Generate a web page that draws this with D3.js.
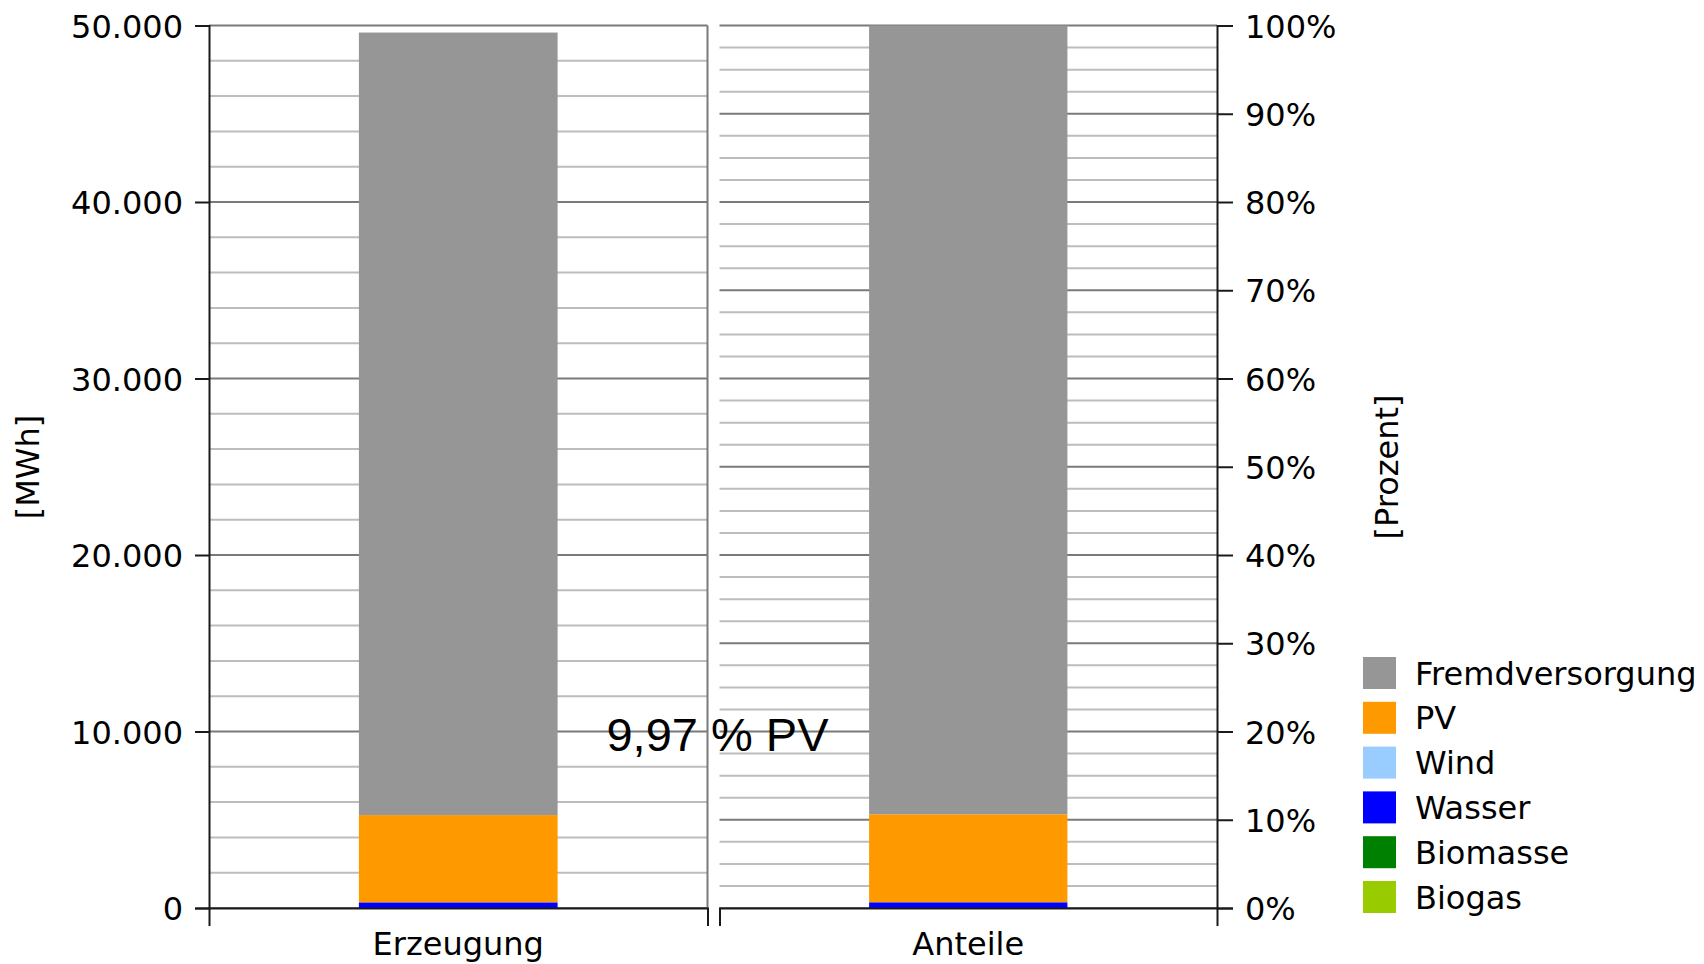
<!DOCTYPE html>
<html>
<head>
<meta charset="utf-8">
<script src="https://cdn.jsdelivr.net/npm/d3@7"></script>
<style>
    body { margin: 0; background: #fff; }
    text { font-family: "DejaVu Sans", sans-serif; fill: #000; }
    .axis text { font-size: 32px; }
    .axis path, .axis line { stroke: #1a1a1a; stroke-width: 2px; }
    .gridMinor { stroke: #bdbdbd; stroke-width: 2px; }
    .gridMajor { stroke: #7a7a7a; stroke-width: 2px; }
    .panelEdge { stroke: #7a7a7a; stroke-width: 2px; }
    .axisTitle { font-size: 32px; }
    .legendText { font-size: 32px; }
    .shareNote { font-family: "Liberation Sans", Arial, sans-serif; font-size: 47px; fill: #000; }
</style>
</head>
<body>
<div id="chart"></div>
<script>
// categories (one panel each) and stacked series, bottom to top
const categories = ["Erzeugung", "Anteile"];
const seriesNames = ["Biogas", "Biomasse", "Wasser", "Wind", "PV", "Fremdversorgung"];
const seriesColors = ["#99cc00", "#008000", "#0000ff", "#99ccff", "#ff9900", "#969696"];

// generation in MWh and shares in percent, same order as seriesNames
const erzeugungMWh = [0, 0, 320, 0, 4945, 44335];
const anteileProzent = [0, 0, 0.65, 0, 9.97, 89.38];

// tick labels
const mwhTicks = [0, 10000, 20000, 30000, 40000, 50000];
const prozentTicks = [0, 10, 20, 30, 40, 50, 60, 70, 80, 90, 100];

const pvNote = "9,97 % PV";

/** Class implementing the two panel stacked bar chart. */
class ShareChart {

    constructor() {
        this.width = 1704;
        this.height = 964;
        this.top = 25.5;
        this.bottom = 908;
        // left panel (MWh) and right panel (percent)
        this.panels = [
            {cat: categories[0], x0: 209, x1: 707.5, values: erzeugungMWh, max: 50000},
            {cat: categories[1], x0: 719.5, x1: 1217, values: anteileProzent, max: 100}
        ];
        this.svg = d3.select("#chart").append("svg")
            .attr("width", this.width)
            .attr("height", this.height);
    }

    update() {
        let _this = this;
        let svg = this.svg;
        let de = d3.formatLocale({decimal: ",", thousands: ".", grouping: [3], currency: ["", "€"]});
        let fmt = de.format(",");

        this.panels.forEach((p) => {
            p.y = d3.scaleLinear().domain([0, p.max]).range([_this.bottom, _this.top]);
            p.x = d3.scaleBand().domain([p.cat]).range([p.x0, p.x1]).padding(0.43);
        });
        let left = this.panels[0], right = this.panels[1];

        // gridlines: minor first, then major
        let grid = svg.append("g");
        let minorL = d3.range(0, 50001, 2000).filter(v => v % 10000 != 0);
        let minorR = d3.range(0, 100.1, 2.5).filter(v => v % 10 != 0);
        [[left, minorL, "gridMinor"], [right, minorR, "gridMinor"],
         [left, mwhTicks, "gridMajor"], [right, prozentTicks, "gridMajor"]].forEach(([p, vals, cls]) => {
            grid.selectAll(null).data(vals).enter().append("line")
                .attr("class", cls)
                .attr("x1", p.x0).attr("x2", p.x1)
                .attr("y1", d => p.y(d)).attr("y2", d => p.y(d));
        });

        // right edge of the left panel
        grid.append("line").attr("class", "panelEdge")
            .attr("x1", left.x1).attr("x2", left.x1)
            .attr("y1", _this.top).attr("y2", _this.bottom);

        // stacked bars
        this.panels.forEach((p) => {
            let row = {cat: p.cat};
            seriesNames.forEach((s, i) => row[s] = p.values[i]);
            let stacked = d3.stack().keys(seriesNames)([row]);
            svg.append("g").selectAll("rect").data(stacked).enter().append("rect")
                .attr("x", p.x(p.cat))
                .attr("width", p.x.bandwidth())
                .attr("y", d => p.y(d[0][1]))
                .attr("height", d => p.y(d[0][0]) - p.y(d[0][1]))
                .attr("fill", (d, i) => seriesColors[i]);
        });

        // y axes
        svg.append("g").attr("class", "axis")
            .attr("transform", "translate(" + left.x0 + ",0)")
            .call(d3.axisLeft(left.y).tickValues(mwhTicks).tickFormat(fmt).tickSize(14).tickPadding(12))
            .selectAll("text").attr("dy", "0.36em");
        svg.append("g").attr("class", "axis")
            .attr("transform", "translate(" + right.x1 + ",0)")
            .call(d3.axisRight(right.y).tickValues(prozentTicks).tickFormat(d => d + "%").tickSize(16).tickPadding(12))
            .selectAll("text").attr("dy", "0.36em");

        // x axes, outer ticks mark the panel ends
        this.panels.forEach((p) => {
            svg.append("g").attr("class", "axis")
                .attr("transform", "translate(0," + _this.bottom + ")")
                .call(d3.axisBottom(p.x).tickSizeInner(0).tickSizeOuter(18).tickPadding(24));
        });
        svg.selectAll(".axis .tick line").filter(function() { return +this.getAttribute("y2") === 0 && +this.getAttribute("x2") === 0; }).remove();

        // axis titles
        svg.append("text").attr("class", "axisTitle")
            .attr("transform", "translate(27,467) rotate(-90)")
            .attr("text-anchor", "middle").attr("dy", "0.36em")
            .text("[MWh]");
        svg.append("text").attr("class", "axisTitle")
            .attr("transform", "translate(1386,467) rotate(-90)")
            .attr("text-anchor", "middle").attr("dy", "0.36em")
            .text("[Prozent]");

        // PV share note between the panels
        svg.append("text").attr("class", "shareNote")
            .attr("x", (left.x1 + right.x0) / 2 + 4)
            .attr("y", 751)
            .attr("text-anchor", "middle")
            .text(pvNote);

        // legend, top entry is the top of the stack
        let legendItems = seriesNames.map((s, i) => ({name: s, color: seriesColors[i]})).reverse();
        let legend = svg.append("g").attr("transform", "translate(1363,657)");
        let item = legend.selectAll("g").data(legendItems).enter().append("g")
            .attr("transform", (d, i) => "translate(0," + (i * 44.8) + ")");
        item.append("rect").attr("width", 33).attr("height", 32).attr("fill", d => d.color);
        item.append("text").attr("class", "legendText")
            .attr("x", 52).attr("y", 16).attr("dy", "0.36em")
            .text(d => d.name);
    }
}

let chart = new ShareChart();
chart.update();
</script>
</body>
</html>
